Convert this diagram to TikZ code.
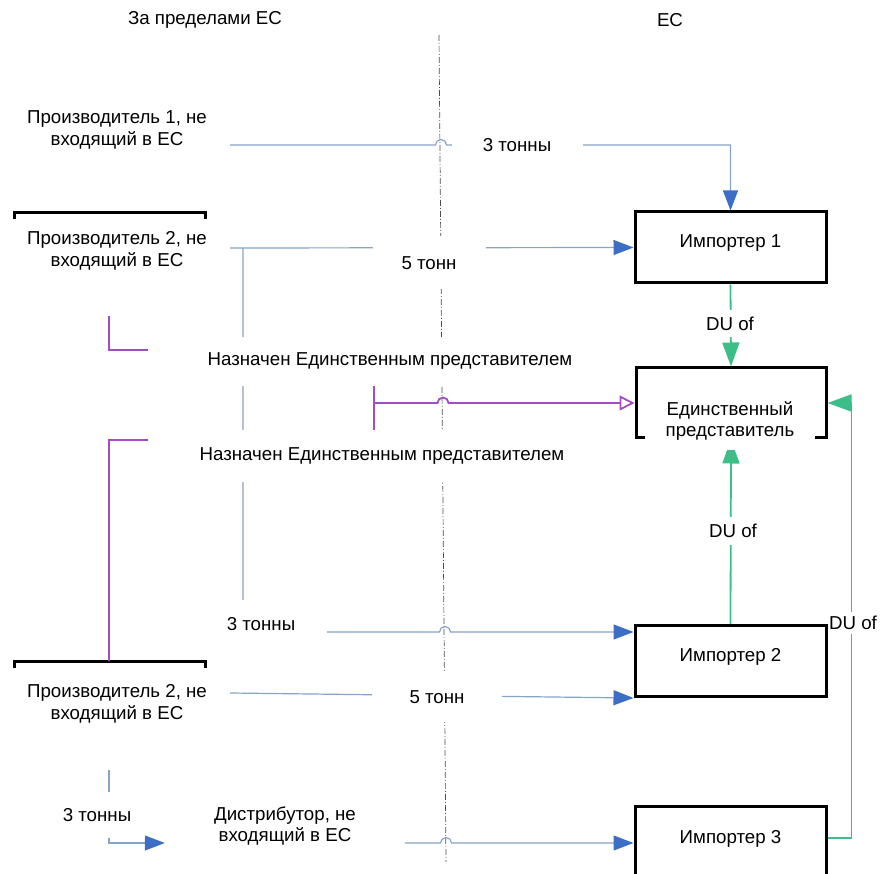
\documentclass[tikz,border=0pt]{standalone}
\usepackage{fontspec}
\setmainfont{Liberation Sans}
\usepackage{xcolor}
\usetikzlibrary{arrows.meta}

\definecolor{flowline}{HTML}{86A3C8}
\definecolor{flowtip}{HTML}{3C6EC6}
\definecolor{dugreen}{HTML}{3DBE88}
\definecolor{orpurple}{HTML}{A24CC8}

\begin{document}
\begin{tikzpicture}[x=1pt,y=-1pt,font=\fontsize{18.7}{21.5}\selectfont,
		every node/.style={inner sep=0pt,align=center},
		impbox/.style={draw,line width=3pt,minimum width=191,minimum height=71,text height=13pt,text depth=13pt},
		cover/.style={fill=white},
		flow/.style={draw=flowline,line width=1.2pt,-{Triangle[length=20pt,width=15pt,color=flowtip]}},
		du/.style={draw=dugreen,line width=1.8pt,-{Triangle[length=24pt,width=17pt,color=dugreen]}},
		orep/.style={draw=orpurple,line width=1.8pt},
		border/.style={draw=black!70,line width=0.7pt,dash pattern=on 6pt off 2pt on 1pt off 2pt}]
		\useasboundingbox (0,0) rectangle (881,874);
		\clip (0,0) rectangle (881,874);
		
		\node (outside) at (205,20) {За пределами ЕС};
		\node (inside) at (670,20) {ЕС};
		\draw[border] (439,35) -- (446,862);
		
		\node[impbox] (imp1) at (730.5,247.5) {Импортер 1};
		\node[impbox] (imp2) at (730.5,661) {Импортер 2};
		\node[impbox,minimum height=74] (imp3) at (730.5,843) {Импортер 3};
		\node[draw,line width=3pt,minimum width=190,minimum height=70] (ep) at (731,403) {};
		
		\node[minimum width=226] (prod1) at (117,130) {Производитель 1, не\\входящий в ЕС};
		\node[minimum width=226] (prod2a) at (117,251) {Производитель 2, не\\входящий в ЕС};
		\node[minimum width=226] (prod2b) at (117,704) {Производитель 2, не\\входящий в ЕС};
		\node[minimum width=240] (dist) at (285,826) {Дистрибутор, не\\входящий в ЕС};
		\draw[line width=3pt] (14,219) -- (14,213) -- (205,213) -- (205,219);
		\draw[line width=3pt] (14,668) -- (14,661) -- (205,661) -- (205,668);
		
		\coordinate (split) at (243,248);
		\coordinate (oa) at (109,316);
		\coordinate (ob) at (109,661);
		\coordinate (b1) at (109,770);
		
		% tonnes
		\draw[flow] ([yshift=-15pt]prod1.east) -- (435.5,145) arc[start angle=180,end angle=360,radius=5.5] -| (imp1.north);
		\draw[flow] ([yshift=3pt]prod2a.east) -- (imp1.west);
		\draw[flow] (split) -- (243,632) -- (439.5,632) arc[start angle=180,end angle=360,radius=5.5] -- ([yshift=29pt]imp2.west);
		\draw[flow] ([yshift=11pt]prod2b.east) -- (imp2.south west);
		\draw[flow] (b1) |- (dist.west |- imp3.west);
		\draw[flow] (dist.east |- imp3.west) -- (440.5,843) arc[start angle=180,end angle=360,radius=5.5] -- (imp3.west);
		
		% DU of
		\draw (imp1.south) edge[du] (ep.north);
		\draw (imp2.north) edge[du] (ep.south);
		\draw[du] ([yshift=5pt]imp3.east) -- ++(24,0) |- (ep.east);
		
		% OR
		\draw[orep] (oa) -- (109,350) -- (374,350) -- (374,403);
		\draw[orep,-{Triangle[open,length=15pt,width=15pt,color=orpurple]}] (ob) -- (109,440) -- (374,440) -- (374,403) -- (437.5,403) arc[start angle=180,end angle=360,radius=5.5] -- (ep.west);
		
		\node[cover,minimum width=131,minimum height=30] (w3a) at (517,145) {3 тонны};
		\node[cover,minimum width=113,minimum height=53] (w5a) at (429,263) {5 тонн};
		\node[cover,minimum width=484,minimum height=49] (nazn1) at (390,361.5) {Назначен Единственным представителем};
		\node[cover,minimum width=468,minimum height=52] (nazn2) at (382,456) {Назначен Единственным представителем};
		\node[cover,minimum width=132,minimum height=48] (w3b) at (261,624) {3 тонны};
		\node[cover,minimum width=130,minimum height=50] (w5b) at (437,697) {5 тонн};
		\node[cover,minimum width=95,minimum height=46] (w3c) at (97,815) {3 тонны};
		\node[cover,minimum width=60,minimum height=27] (du1) at (730,323.5) {DU of};
		\node[cover,minimum width=60,minimum height=28] (du2) at (733,531) {DU of};
		\node[cover,minimum height=22] (du3) at (853,623) {DU of};
		\node[cover,minimum width=170,minimum height=58] (eptext) at (730,421) {Единственный\\представитель};
	\end{tikzpicture}
\end{document}
